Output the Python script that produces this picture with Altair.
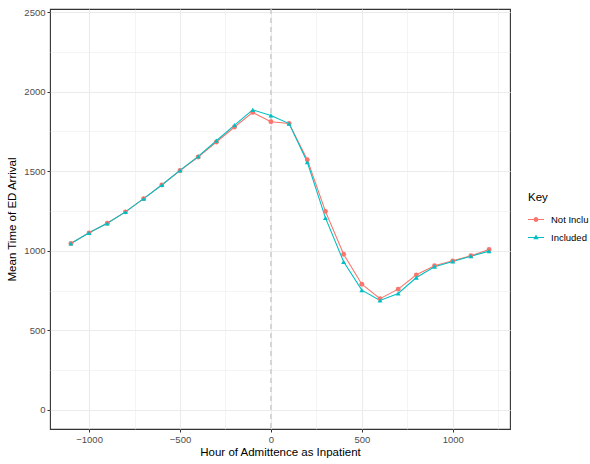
import altair as alt
import pandas as pd

hours = [-1100, -1000, -900, -800, -700, -600, -500, -400, -300, -200, -100, 0,
         100, 200, 300, 400, 500, 600, 700, 800, 900, 1000, 1100, 1200]
not_included = [1046, 1113, 1173, 1245, 1328, 1414, 1505, 1590, 1684, 1778, 1870, 1811,
                1800, 1573, 1248, 978, 790, 699, 759, 849, 906, 937, 969, 1008]
included = [1046, 1113, 1173, 1245, 1328, 1414, 1506, 1594, 1692, 1790, 1886, 1851,
            1800, 1558, 1207, 931, 753, 688, 732, 832, 900, 933, 966, 998]
keys = ["Not Inclu", "Included"]
colors = ["#F8766D", "#00BFC4"]
shapes = ["circle", "triangle-up"]
x_ticks = list(range(-1250, 1251, 250))
y_ticks = list(range(0, 2501, 250))
vline_at = [0]

df = pd.DataFrame({
    "hour": hours + hours,
    "value": not_included + included,
    "key": [keys[0]] * len(hours) + [keys[1]] * len(hours),
})
vdf = pd.DataFrame({"hour": vline_at})

FONT = "Liberation Sans"
major = "datum.value % 500 === 0"

def axis(title, values, **kw):
    return alt.Axis(
        title=title, values=values, format="d",
        labelExpr=f"{major} ? datum.label : ''",
        gridColor="#EBEBEB",
        gridWidth={"condition": {"test": major, "value": 1.1}, "value": 0.55},
        tickOpacity={"condition": {"test": major, "value": 1}, "value": 0},
        tickColor="#333333", tickSize=3, tickWidth=1,
        domain=False, labelFlush=False, labelOverlap=False,
        labelColor="#4D4D4D", labelFont=FONT, labelFontSize=9.5, labelPadding=2,
        titleFont=FONT, titleFontSize=11.5, titleFontWeight="normal", titleColor="#000000",
        **kw,
    )

x_enc = alt.X("hour:Q", scale=alt.Scale(domain=[-1215, 1315], nice=False, zero=False),
              axis=axis("Hour of Admittence as Inpatient", x_ticks, titlePadding=3))
y_enc = alt.Y("value:Q", scale=alt.Scale(domain=[-120, 2520], nice=False, zero=False),
              axis=axis("Mean Time of ED Arrival", y_ticks, titlePadding=6))

cscale = alt.Scale(domain=keys, range=colors)
sscale = alt.Scale(domain=keys, range=shapes)

# legend keys: a thin bar (the line) with the series marker on it, as in ggplot
circle_key = ("M-1,-0.07H1V0.07H-1Z"
              "M0.3,0A0.3,0.3,0,1,1,-0.3,0A0.3,0.3,0,1,1,0.3,0Z")
triangle_key = "M-1,-0.07H1V0.07H-1ZM0,-0.38L0.34,0.22L-0.34,0.22Z"
key_scale = alt.Scale(domain=keys, range=[circle_key, triangle_key])

key_legend = alt.Legend(
    title="Key", orient="none", legendX=478, legendY=183, padding=0,
    symbolSize=256, symbolStrokeWidth=0, symbolOpacity=1,
    titleColor="#000000", labelColor="#000000",
    titleFont=FONT, titleFontSize=11.5, titleFontWeight="normal", titlePadding=8,
    labelFont=FONT, labelFontSize=9.5, labelOffset=7, rowPadding=5,
)

rule = alt.Chart(vdf).mark_rule(color="#BEBEBE", strokeDash=[5, 4], strokeWidth=1.1).encode(
    x=x_enc)

lines = alt.Chart(df).mark_line(strokeWidth=1.1).encode(
    x=x_enc, y=y_enc,
    color=alt.Color("key:N", scale=cscale, sort=keys, legend=None),
    detail="key:N",
)

points = alt.Chart(df).mark_point(filled=True, size=24, opacity=1).encode(
    x=x_enc, y=y_enc,
    color=alt.Color("key:N", scale=cscale, sort=keys, legend=None),
    shape=alt.Shape("key:N", scale=sscale, sort=keys, legend=None),
)

# legend-only layer (draws no marks)
legend_layer = alt.Chart(df).transform_filter("false").mark_point(
    filled=True, size=256, strokeWidth=0, opacity=1
).encode(
    color=alt.Color("key:N", scale=cscale, sort=keys, legend=key_legend),
    shape=alt.Shape("key:N", scale=key_scale, sort=keys, legend=key_legend),
)

chart = alt.layer(rule, lines, points, legend_layer).resolve_scale(
    shape="independent", color="independent"
).properties(
    width=460, height=420,
    padding={"left": 50, "top": 9, "right": 80, "bottom": 35},
    autosize=alt.AutoSizeParams(type="none"),
    background="#FFFFFF",
).configure_view(stroke="#333333", strokeWidth=1.1)

chart.save("out.html", embed_options={"renderer": "svg", "actions": False})
